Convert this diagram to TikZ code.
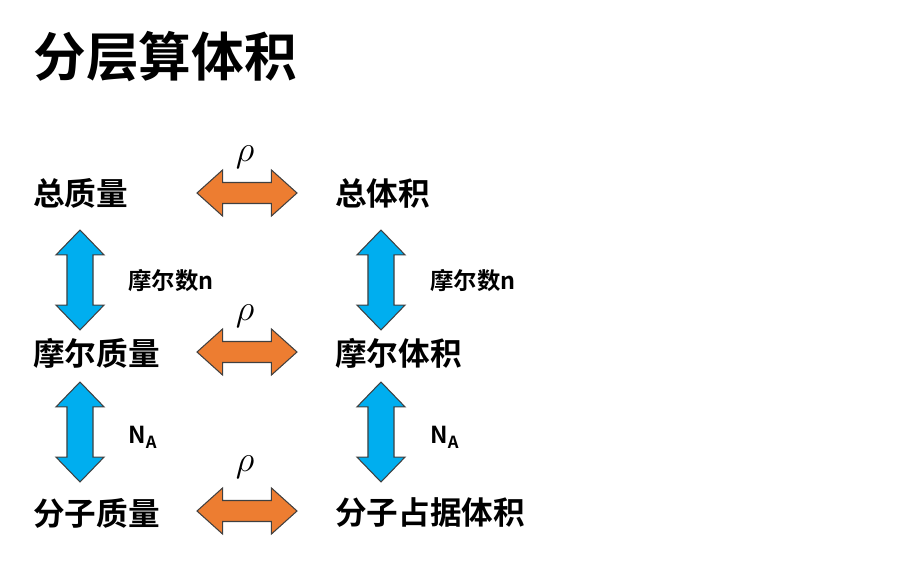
\documentclass[tikz,border=0pt]{standalone}
\usepackage{fontspec}
\setmainfont{Liberation Sans}
\newfontfamily\cjk{Noto Sans CJK SC}[BoldFont={Noto Sans CJK SC Bold}]
\usetikzlibrary{shapes.arrows}
\definecolor{convorange}{HTML}{ED7D31}
\definecolor{convblue}{HTML}{00AEEF}
\tikzset{
  qty/.style={anchor=west, inner sep=0pt, font=\cjk\bfseries\fontsize{18}{21}\selectfont},
  note/.style={anchor=west, inner sep=0pt, font=\cjk\bfseries\fontsize{13.3}{15}\selectfont},
  rholabel/.style={inner sep=0pt, font=\fontsize{21}{23}\selectfont},
  harrow/.style={double arrow, draw=black!75, line width=0.6pt, fill=convorange, inner xsep=0pt, inner ysep=0.2cm,
    minimum height=2cm, double arrow head extend=0.25cm, double arrow tip angle=84},
  varrow/.style={double arrow, rotate=90, draw=black!75, line width=0.6pt, fill=convblue, inner xsep=0pt, inner ysep=0.25cm,
    minimum height=2cm, double arrow head extend=0.22cm, double arrow tip angle=88},
}

\begin{document}
\begin{tikzpicture}[x=0.02cm, y=-0.02cm]
  \useasboundingbox (0,0) rectangle (921,578);
  \node[anchor=west, inner sep=0pt, font=\cjk\bfseries\fontsize{30}{34}\selectfont] (title) at (33,57) {分层算体积};
  % quantities
  \node[qty] (totmass) at (33,193) {总质量};
  \node[qty] (molmass) at (33,353) {摩尔质量};
  \node[qty] (partmass) at (33,513) {分子质量};
  \node[qty] (totvol) at (335,193) {总体积};
  \node[qty] (molvol) at (335,353) {摩尔体积};
  \node[qty] (partvol) at (335,513) {分子占据体积};
  % density arrows
  \node[harrow] (rhoA) at (247,193) {};
  \node[harrow] (rhoB) at (247,352) {};
  \node[harrow] (rhoC) at (247,511) {};
  \node[rholabel] at (245,157) {$\rho$};
  \node[rholabel] at (245,316) {$\rho$};
  \node[rholabel] at (245,467) {$\rho$};
  % vertical arrows
  \node[varrow] (nleft) at (80,280) {};
  \node[varrow] (nright) at (381,280) {};
  \node[varrow] (naleft) at (80,432) {};
  \node[varrow] (naright) at (381,432) {};
  \node[note] at (128,281) {摩尔数n};
  \node[note] at (430,281) {摩尔数n};
  \node[note] at (128,437) {N\raisebox{-0.4ex}{\fontsize{9.5}{10}\selectfont A}};
  \node[note] at (430,437) {N\raisebox{-0.4ex}{\fontsize{9.5}{10}\selectfont A}};
\end{tikzpicture}
\end{document}
